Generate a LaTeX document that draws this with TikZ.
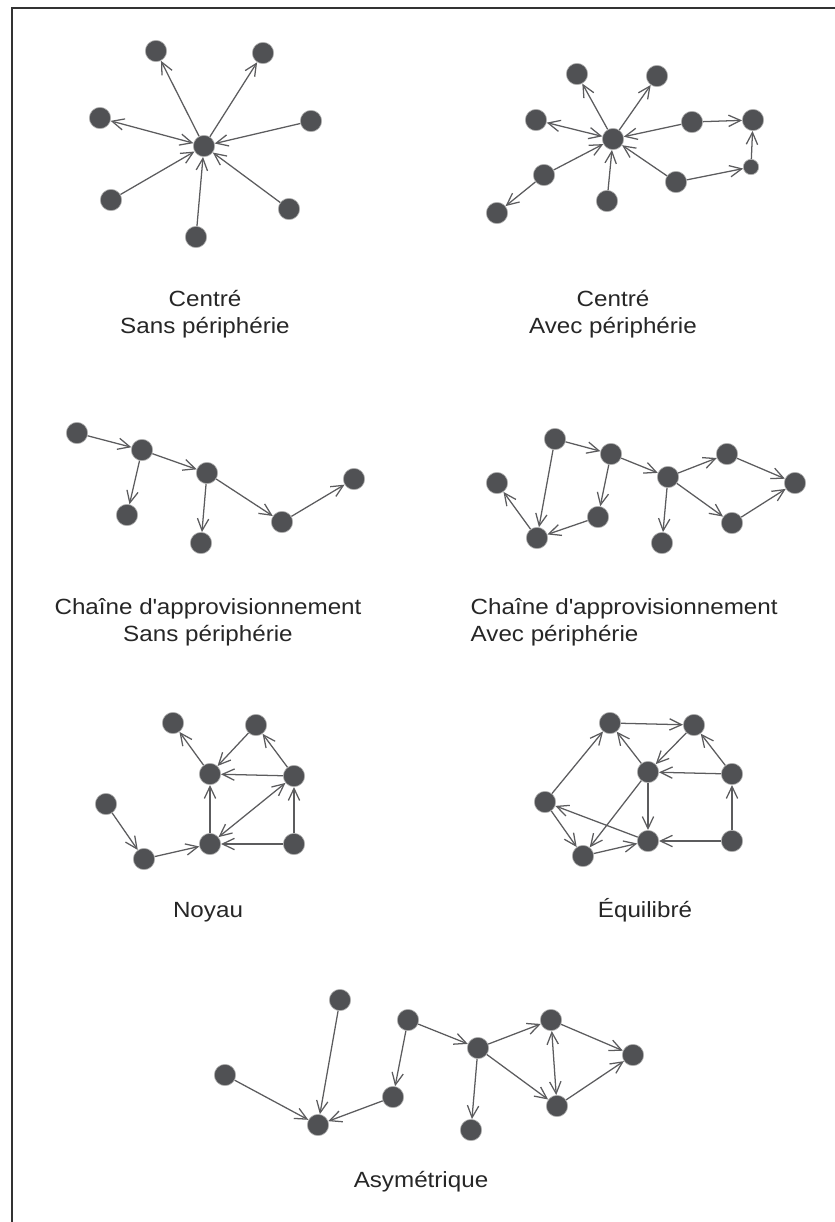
\documentclass[tikz,border=0pt]{standalone}
\usepackage{fontspec}
\setmainfont{Liberation Sans}[FakeStretch=1.1]
\usetikzlibrary{arrows.meta}

\definecolor{dotgray}{RGB}{80,81,84}
\definecolor{linkgray}{RGB}{92,92,94}

\tikzset{
    vertex/.style={circle, draw=gray!60, fill=dotgray, line width=0.5pt, inner sep=0pt, minimum size=16pt},
    smallvertex/.style={vertex, minimum size=11.5pt},
    link/.style={draw=linkgray, line width=0.95pt, -{Straight Barb[length=9pt,width=8.5pt]}},
    twoway/.style={link, {Straight Barb[length=9pt,width=8.5pt]}-{Straight Barb[length=9pt,width=8.5pt]}},
    caption/.style={align=center, text=black!85, font=\fontsize{16.5}{20.25}\selectfont}
}

\begin{document}
\begin{tikzpicture}[x=0.75pt, y=-0.75pt]
    \useasboundingbox (0,0) rectangle (835,1222);

    % Frame
    \draw[line width=1.3pt, black!80] (12,1222) -- (12,8) -- (835,8);

    % Centre, sans peripherie
    \node[vertex] (c1) at (204,146) {};
    \node[vertex] (tl1) at (156,51) {};
    \node[vertex] (tr1) at (263,53) {};
    \node[vertex] (l1) at (100,118) {};
    \node[vertex] (r1) at (311,121) {};
    \node[vertex] (bl1) at (111,200) {};
    \node[vertex] (b1) at (196,237) {};
    \node[vertex] (br1) at (289,209) {};
    \draw[link] (c1) -- (tl1);
    \draw[link] (c1) -- (tr1);
    \draw[twoway] (c1) -- (l1);
    \foreach \src in {r1,bl1,b1,br1}
        \draw[link] (\src) -- (c1);
    \node[caption] (cap1) at (205,314) {Centré\\Sans périphérie};

    % Centre, avec peripherie
    \node[vertex] (c2) at (613,139) {};
    \node[vertex] (tl2) at (577,74) {};
    \node[vertex] (tr2) at (657,76) {};
    \node[vertex] (l2) at (536,120) {};
    \node[vertex] (mr2) at (692,122) {};
    \node[vertex] (fr2) at (753,120) {};
    \node[smallvertex] (s2) at (751,167) {};
    \node[vertex] (lr2) at (676,182) {};
    \node[vertex] (b2) at (607,201) {};
    \node[vertex] (ll2) at (544,175) {};
    \node[vertex] (bl2) at (497,213) {};
    \draw[link] (c2) -- (tl2);
    \draw[link] (c2) -- (tr2);
    \draw[twoway] (c2) -- (l2);
    \foreach \src in {mr2,ll2,b2,lr2}
        \draw[link] (\src) -- (c2);
    \draw[link] (mr2) -- (fr2);
    \draw[link] (ll2) -- (bl2);
    \draw[link] (lr2) -- (s2);
    \draw[link] (s2) -- (fr2);
    \node[caption] (cap2) at (613,314) {Centré\\Avec périphérie};

    % Chaine, sans peripherie
    \node[vertex] (a3) at (77,433) {};
    \node[vertex] (b3) at (142,450) {};
    \node[vertex] (c3) at (127,515) {};
    \node[vertex] (d3) at (207,473) {};
    \node[vertex] (e3) at (201,543) {};
    \node[vertex] (f3) at (282,522) {};
    \node[vertex] (g3) at (354,479) {};
    \draw[link] (a3) -- (b3);
    \draw[link] (b3) -- (c3);
    \draw[link] (b3) -- (d3);
    \draw[link] (d3) -- (e3);
    \draw[link] (d3) -- (f3);
    \draw[link] (f3) -- (g3);
    \node[caption] (cap3) at (208,622) {Chaîne d\textquotesingle approvisionnement\\Sans périphérie};

    % Chaine, avec peripherie
    \node[vertex] (a4) at (497,483) {};
    \node[vertex] (b4) at (555,439) {};
    \node[vertex] (c4) at (611,454) {};
    \node[vertex] (d4) at (598,517) {};
    \node[vertex] (e4) at (537,538) {};
    \node[vertex] (f4) at (668,477) {};
    \node[vertex] (g4) at (727,454) {};
    \node[vertex] (h4) at (795,483) {};
    \node[vertex] (i4) at (732,523) {};
    \node[vertex] (j4) at (662,543) {};
    \draw[link] (b4) -- (c4);
    \draw[link] (b4) -- (e4);
    \draw[link] (c4) -- (d4);
    \draw[link] (d4) -- (e4);
    \draw[link] (e4) -- (a4);
    \draw[link] (c4) -- (f4);
    \draw[link] (f4) -- (g4);
    \draw[link] (f4) -- (i4);
    \draw[link] (f4) -- (j4);
    \draw[link] (g4) -- (h4);
    \draw[link] (i4) -- (h4);
    \node[caption, align=left, anchor=west] (cap4) at (466,622) {Chaîne d\textquotesingle approvisionnement\\Avec périphérie};

    % Noyau
    \node[vertex] (a5) at (106,804) {};
    \node[vertex] (b5) at (144,859) {};
    \node[vertex] (c5) at (210,844) {};
    \node[vertex] (d5) at (210,774) {};
    \node[vertex] (e5) at (173,723) {};
    \node[vertex] (f5) at (256,725) {};
    \node[vertex] (g5) at (294,776) {};
    \node[vertex] (h5) at (294,844) {};
    \draw[link] (a5) -- (b5);
    \draw[link] (b5) -- (c5);
    \draw[link] (c5) -- (d5);
    \draw[link] (d5) -- (e5);
    \draw[link] (f5) -- (d5);
    \draw[link] (g5) -- (d5);
    \draw[link] (g5) -- (f5);
    \draw[twoway] (c5) -- (g5);
    \draw[link] (h5) -- (c5);
    \draw[link] (h5) -- (g5);
    \node[caption] (cap5) at (208,912) {Noyau};

    % Equilibre
    \node[vertex] (a6) at (545,802) {};
    \node[vertex] (b6) at (610,723) {};
    \node[vertex] (c6) at (694,725) {};
    \node[vertex] (d6) at (648,772) {};
    \node[vertex] (e6) at (732,774) {};
    \node[vertex] (f6) at (583,856) {};
    \node[vertex] (g6) at (648,841) {};
    \node[vertex] (h6) at (732,841) {};
    \draw[link] (a6) -- (b6);
    \draw[link] (a6) -- (f6);
    \draw[link] (b6) -- (c6);
    \draw[link] (c6) -- (d6);
    \draw[link] (d6) -- (b6);
    \draw[link] (d6) -- (f6);
    \draw[link] (d6) -- (g6);
    \draw[link] (e6) -- (d6);
    \draw[link] (e6) -- (c6);
    \draw[link] (f6) -- (g6);
    \draw[link] (g6) -- (a6);
    \draw[link] (h6) -- (g6);
    \draw[link] (h6) -- (e6);
    \node[caption] (cap6) at (645,910) {Équilibré};

    % Asymetrique
    \node[vertex] (a7) at (225,1075) {};
    \node[vertex] (b7) at (340,1000) {};
    \node[vertex] (c7) at (318,1125) {};
    \node[vertex] (d7) at (393,1097) {};
    \node[vertex] (e7) at (408,1020) {};
    \node[vertex] (f7) at (478,1048) {};
    \node[vertex] (g7) at (471,1130) {};
    \node[vertex] (h7) at (551,1020) {};
    \node[vertex] (i7) at (557,1106) {};
    \node[vertex] (j7) at (633,1055) {};
    \draw[link] (a7) -- (c7);
    \draw[link] (b7) -- (c7);
    \draw[link] (d7) -- (c7);
    \draw[link] (e7) -- (d7);
    \draw[link] (e7) -- (f7);
    \draw[link] (f7) -- (g7);
    \draw[link] (f7) -- (h7);
    \draw[link] (f7) -- (i7);
    \draw[twoway] (h7) -- (i7);
    \draw[link] (h7) -- (j7);
    \draw[link] (i7) -- (j7);
    \node[caption] (cap7) at (421,1182) {Asymétrique};
\end{tikzpicture}
\end{document}
